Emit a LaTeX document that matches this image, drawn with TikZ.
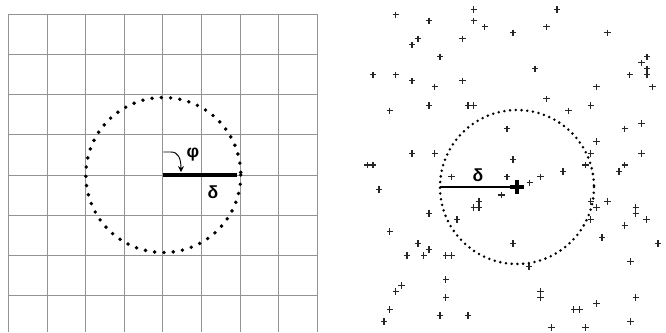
\documentclass[tikz,border=0pt]{standalone}
\usepackage{fontspec}
\setmainfont{Liberation Sans}
\usetikzlibrary{arrows.meta}
\tikzset{
  every picture/.style={x=0.03cm, y=-0.03cm},
  gridline/.style={draw=gray!85, line width=0.7pt},
  bigdots/.style={line width=3.3pt, line cap=round, dash pattern=on 0pt off 7.95pt},
  smalldots/.style={line width=2.4pt, line cap=round, dash pattern=on 0pt off 4.9pt},
  pt/.style={draw=black!85, line width=1.3pt},
  sym/.style={font=\fontsize{15}{17}\selectfont\bfseries, inner sep=0pt},
}
\begin{document}
\begin{tikzpicture}
  \useasboundingbox (0,0) rectangle (666,332);
  % left: regular lattice
  \foreach \i in {0,...,8} \draw[gridline] (8.3+38.63*\i,14) -- (8.3+38.63*\i,332);
  \foreach \j in {0,...,7} \draw[gridline] (8.3,14+40.25*\j) -- (317.3,14+40.25*\j);
  \coordinate (cl) at (163.3,175);
  \coordinate (clr) at (236.5,175);
  \draw[bigdots] (cl) circle (77.5);
  \draw[line width=2.6pt] (cl) -- (clr);
  \coordinate (pa) at (163.3,152);
  \coordinate (pb) at (181,172);
  \draw[line width=0.8pt, -{Stealth[length=5pt,width=5pt]}] (pa) -- (171,152) .. controls (178,152) and (181,158) .. (pb);
  \node[sym] (phi) at (193,155) {φ};
  \node[sym] (dl) at (213,192) {δ};
  % right: random points
  \foreach \x/\y in {395.7/14.7, 429/20.7, 473.7/9.3, 473.7/20.7, 484.7/26.7, 513/32.7,
    546.3/26.7, 557/9.3, 607.3/32.7, 418/38.7, 412/44.7, 462.3/38.7, 440/56.7,
    373/74.7, 395.7/74.7, 412/80.7, 434.7/86.7, 462.3/80.7, 535/68.7, 629.7/74.7,
    641.3/62.7, 647/56.7, 647/68.7, 647/74.7, 652.3/86.7, 596.3/86.7, 389.7/110.7,
    429/105.3, 468/105.3, 473.7/105.3, 546.3/98.7, 568.3/110.7, 590.7/105.3,
    507/128.7, 624.7/128.7, 641.3/123.3, 596.3/141.3, 412/153.3, 434.7/153.3,
    367.3/165, 373/165, 513/159.3, 590.7/153.3, 585.3/165, 624.7/165, 619/171.3,
    641.3/153.3, 451.3/176.7, 507/176.7, 529.7/182.7, 540.3/176.7, 563/171.3,
    379/189.3, 501.3/195, 479/201.3, 473.7/207.3, 479/207.3, 590.7/201.3,
    596.3/207.3, 607.3/201.3, 635.7/207.3, 635.7/213.3, 646.3/219.3, 429/213.3,
    457/219.3, 590.7/219.3, 389.7/231.3, 418/243.3, 429/249.3, 407/255.3,
    423.7/255.3, 445.7/255.3, 451.3/255.3, 513/243.3, 602/237.3, 624.7/225.3,
    658/243.3, 529/266.7, 630.3/261.3, 445.7/279.3, 401.3/285.3, 395.7/291.3,
    445.7/297.3, 540.3/291.3, 540.3/297.3, 389.7/309.3, 384/321.3, 440/315.3,
    468/315.3, 573.7/309.3, 579.7/309.3, 596.3/303.3, 635.7/297.3, 630.3/321.3,
    551.3/327.3, 585.3/327.3}
    \draw[pt] (\x-3.2,\y) -- (\x+3.2,\y) (\x,\y-3.2) -- (\x,\y+3.2);
  \coordinate (cr) at (517,187);
  \coordinate (crl) at (440,187);
  \draw[smalldots] (cr) circle (77);
  \draw[line width=1pt] (crl) -- (cr);
  \draw[line width=3.2pt] (510,187) -- (524,187) (517,180) -- (517,194);
  \node[sym] (dr) at (478,175) {δ};
\end{tikzpicture}
\end{document}
